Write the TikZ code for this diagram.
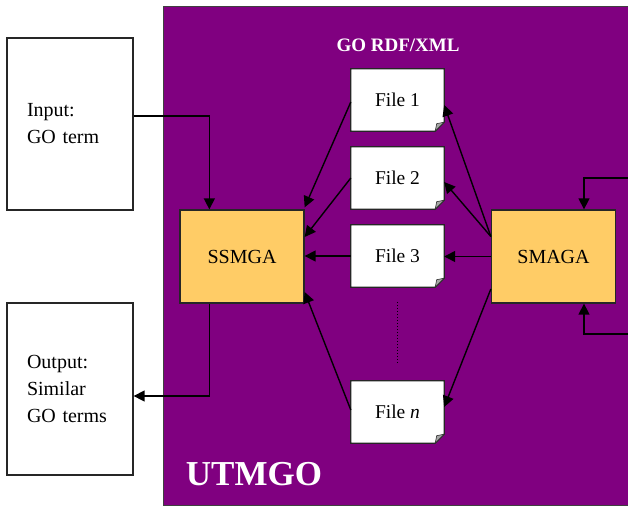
\documentclass[tikz,border=0pt]{standalone}
\usepackage{fontspec}
\setmainfont{Liberation Serif}
\usetikzlibrary{arrows.meta}
\definecolor{utmpurple}{HTML}{800080}
\definecolor{boxorange}{HTML}{FFCC66}
\pgfdeclarelayer{back}
\pgfdeclarelayer{mid}
\pgfsetlayers{back,mid,main}
\begin{document}
\begin{tikzpicture}[x=1pt,y=-1pt,
  iobox/.style={draw=black!85, line width=1.3pt, fill=white, minimum width=126pt, minimum height=172pt,
    text width=86pt, align=left, inner sep=0pt, font=\fontsize{20}{27}\selectfont},
  procbox/.style={draw=black!85, line width=1.3pt, fill=boxorange, minimum width=124pt, minimum height=93pt,
    inner sep=0pt, font=\fontsize{20}{24}\selectfont},
  filebox/.style={minimum width=93pt, minimum height=62pt, inner sep=0pt, font=\fontsize{19.5}{22}\selectfont},
  arr/.style={-{Triangle[length=11pt,width=11pt]}, line width=1.4pt},
  whitelabel/.style={text=white, font=\bfseries\fontsize{#1}{#1}\selectfont, inner sep=0pt}
]
\useasboundingbox (0,0) rectangle (628,506);
\begin{pgfonlayer}{back}
  \fill[white] (0,0) rectangle (628,506);
  \filldraw[fill=utmpurple, draw=black!75, line width=1pt] (163,6) rectangle (660,505);
\end{pgfonlayer}

% input / output
\node[iobox] (in) at (70,124) {Input:\\GO term};
\node[iobox] (out) at (70,389) {Output:\\Similar\\GO terms};

% processing boxes
\node[procbox] (ssmga) at (242,256.5) {SSMGA};
\node[procbox] (smaga) at (553.5,256.5) {SMAGA};

% files
\node[filebox] (f1) at (397.5,100) {File 1};
\node[filebox] (f2) at (397.5,178) {File 2};
\node[filebox] (f3) at (397.5,256) {File 3};
\node[filebox] (fn) at (397.5,412) {File \textit{n}};

\begin{pgfonlayer}{mid}
  \foreach \f in {f1,f2,f3,fn} {
    \filldraw[fill=white, draw=black!85, line width=1.3pt]
      (\f.north west) -- (\f.north east) -- ([yshift=9pt]\f.south east)
      -- ([xshift=-9pt]\f.south east) -- (\f.south west) -- cycle;
    \filldraw[fill=gray!70, draw=black!80, line width=0.6pt]
      ([yshift=9pt]\f.south east) -- ([xshift=-9pt]\f.south east)
      -- ([xshift=-7.5pt,yshift=7.5pt]\f.south east) -- cycle;
  }
\end{pgfonlayer}

% labels
\node[whitelabel=19] (rdf) at (398,45) {GO RDF/XML};
\node[whitelabel=35] (utm) at (254,474) {UTMGO};

% dotted continuation
\draw[line width=0.9pt, black, dash pattern=on 1pt off 2pt] ([yshift=-15pt]f3.south) -- ([yshift=18pt]fn.north);

% input -> SSMGA, SSMGA -> output
\draw[arr] ([yshift=8pt]in.east) -| ([xshift=30pt]ssmga.north west);
\draw[arr] ([xshift=30pt]ssmga.south west) |- ([yshift=-7pt]out.east);

% files -> SSMGA
\draw[arr] ([yshift=-2pt]f1.west) -- ([yshift=2pt]ssmga.north east);
\draw[arr] (f2.west) -- ([yshift=19.5pt]ssmga.east);
\draw[arr] (f3.west) -- (f3.west -| ssmga.east);
\draw[arr] ([yshift=2pt]fn.west) -- ([yshift=-35.5pt]ssmga.east);

% SMAGA -> files
\draw[arr] ([yshift=20pt]smaga.west) -- ([yshift=-5pt]f1.east);
\draw[arr] ([yshift=20pt]smaga.west) -- ([yshift=-4pt]f2.east);
\draw[arr] (smaga.west) -- (smaga.west -| f3.east);
\draw[arr] ([yshift=-32.5pt]smaga.west) -- ([yshift=5pt]fn.east);

% feedback loop of SMAGA
\coordinate (lt) at (640,178);
\coordinate (lb) at (640,334);
\draw[arr] (lt) -| ([xshift=30.5pt]smaga.north);
\draw[arr] (lb) -| ([xshift=30.5pt]smaga.south);
\end{tikzpicture}
\end{document}
